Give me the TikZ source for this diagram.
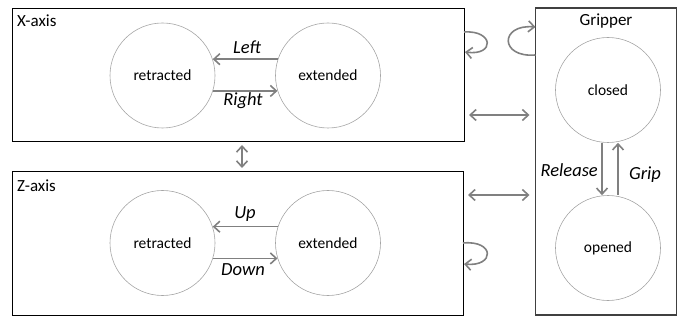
\documentclass[tikz,border=0pt]{standalone}
\usepackage{fontspec}
\setmainfont{Carlito}
\usetikzlibrary{arrows.meta,calc}

\definecolor{arrowgray}{RGB}{128,128,128}
\definecolor{ringgray}{RGB}{165,165,165}

\tikzset{
  panel/.style={draw=black, line width=0.9pt, inner sep=0pt, outer sep=0pt, rectangle},
  statenode/.style={circle, draw=ringgray, line width=0.6pt, minimum size=105pt, inner sep=0pt, font=\fontsize{15.5}{17}\selectfont},
  paneltitle/.style={font=\fontsize{17}{19}\selectfont, inner sep=0pt},
  evlabel/.style={font=\fontsize{18.5}{20}\selectfont\itshape, inner sep=0pt},
  flow/.style={draw=arrowgray, line width=1.6pt, -{Straight Barb[length=6pt,width=11pt]}},
  bothways/.style={draw=arrowgray, line width=1.6pt, {Straight Barb[length=6pt,width=11pt]}-{Straight Barb[length=6pt,width=11pt]}},
}

\begin{document}
\begin{tikzpicture}[x=1pt, y=-1pt]
\useasboundingbox (0,0) rectangle (687,320);

% panels
\node[panel, minimum width=452pt, minimum height=133pt] (xbox) at (238,74.5) {};
\node[panel, minimum width=451pt, minimum height=144pt] (zbox) at (237.5,243) {};
\node[panel, draw=black!75, line width=1.3pt, minimum width=141pt, minimum height=307pt] (grip) at (606,161.5) {};

\node[paneltitle, anchor=west] (xtitle) at (17,21) {X-axis};
\node[paneltitle, anchor=west] (ztitle) at (17,186) {Z-axis};
\node[paneltitle] (gtitle) at (606,21) {Gripper};

% states
\node[statenode] (xr) at (162.5,75.5) {retracted};
\node[statenode] (xe) at (328,75.5) {extended};
\node[statenode] (zr) at (162.5,243) {retracted};
\node[statenode] (ze) at (328,243) {extended};
\node[statenode] (gc) at (608,90) {closed};
\node[statenode] (go) at (608,248) {opened};

% transitions inside the panels
\draw[flow] (xe.162) -- (xr.18);
\draw[flow] (xr.-17) -- (xe.197);
\node[evlabel] (lleft) at (247,47) {Left};
\node[evlabel] (lright) at (243,101) {Right};

\draw[flow] (ze.162) -- (zr.18);
\draw[flow] (zr.-17) -- (ze.197);
\node[evlabel] (lup) at (245,214) {Up};
\node[evlabel] (ldown) at (243,270) {Down};

\draw[flow] ($(gc.south)+(-6,0)$) -- ($(go.north)+(-6,0)$);
\draw[flow] ($(go.north)+(10,0)$) -- ($(gc.south)+(10,0)$);
\node[evlabel, anchor=east] (lrel) at (598,170) {Release};
\node[evlabel, anchor=west] (lgrip) at (629,175) {Grip};

% links between panels
\draw[bothways, shorten <=5pt, shorten >=6pt] ($(xbox.east)+(0,40.5)$) -- ($(grip.west |- xbox.east)+(0,40.5)$);
\draw[bothways, shorten <=5pt, shorten >=6pt] ($(zbox.east)+(0,-48)$) -- ($(grip.west |- zbox.east)+(0,-48)$);
\draw[bothways, shorten <=4pt, shorten >=3pt] ($(xbox.south)+(4,0)$) -- ($(zbox.north)+(4.5,0)$);

% self loops
\draw[flow] ($(xbox.east)+(0,-42.5)$) .. controls +(30,-2) and +(30,4) .. ($(xbox.east)+(1,-22.5)$);
\draw[flow] ($(zbox.east)+(0,0)$) .. controls +(32,-3) and +(31,3) .. ($(zbox.east)+(1,21)$);
\draw[flow] ($(grip.west)+(0,-106.5)$) .. controls +(-36,3) and +(-36,-3) .. ($(grip.west)+(0,-134.5)$);
\end{tikzpicture}
\end{document}
